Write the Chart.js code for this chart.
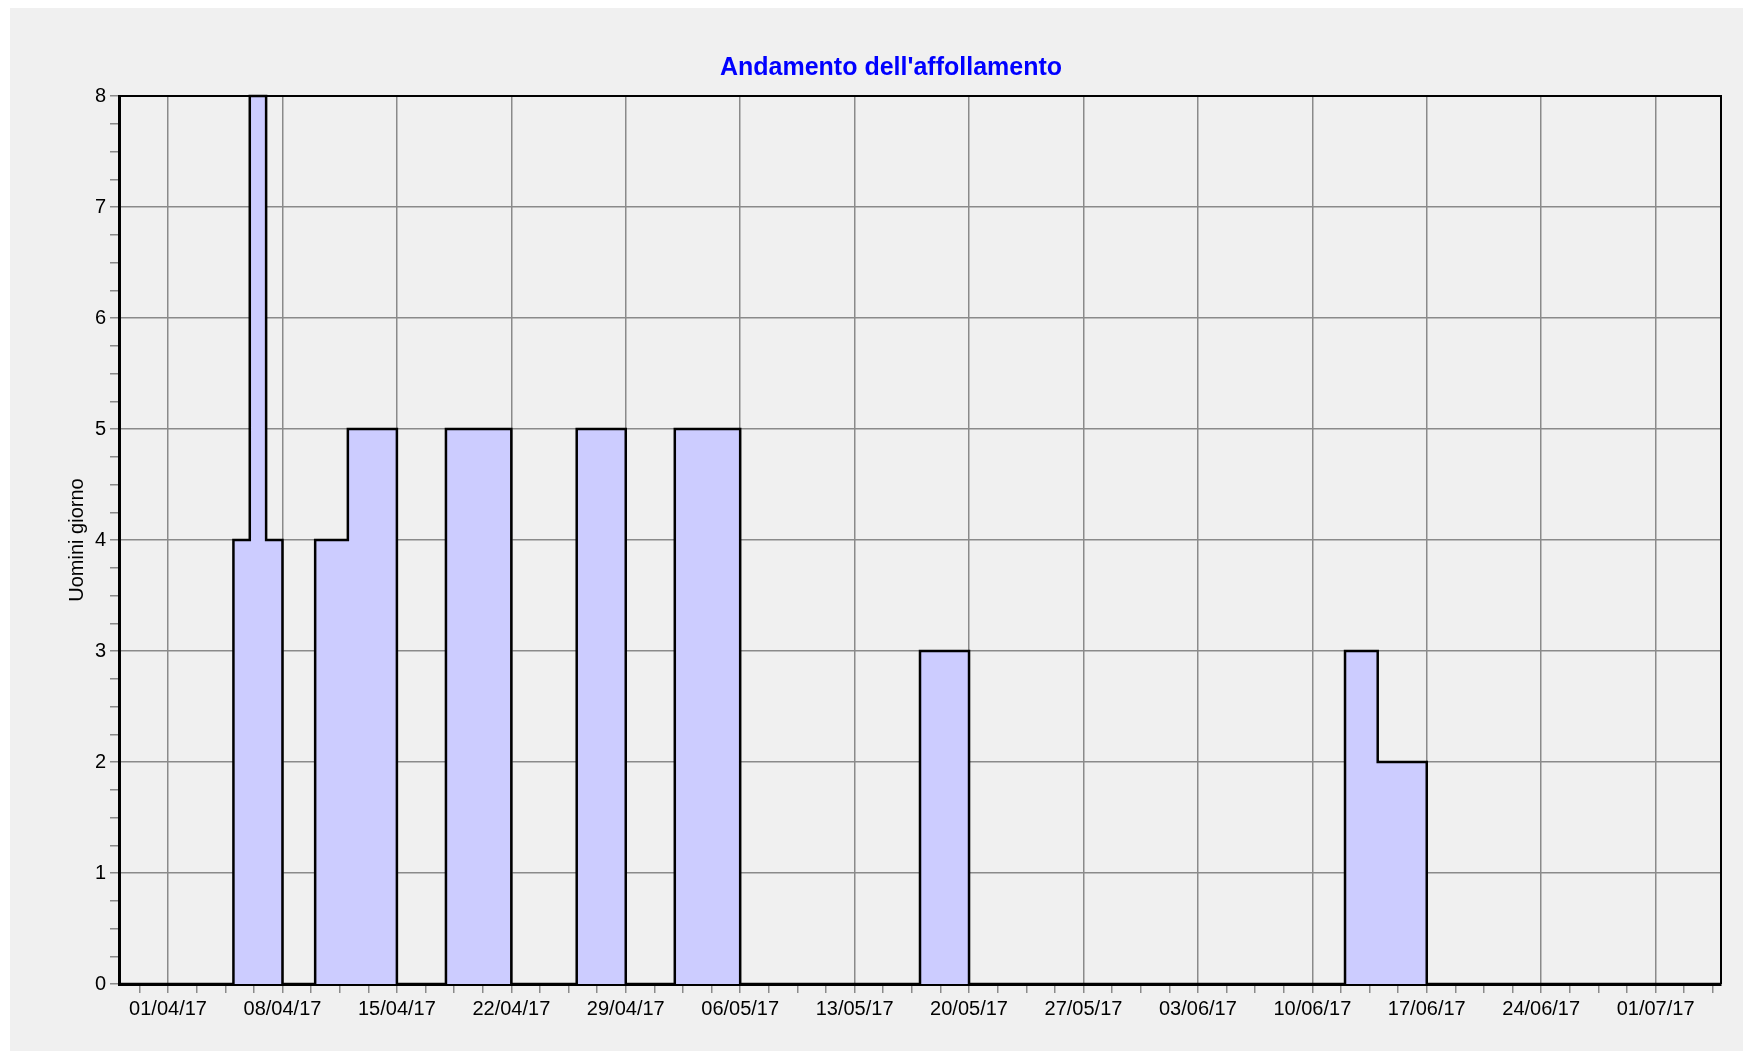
<!DOCTYPE html>
<html>
<head>
<meta charset="utf-8">
<title>Andamento dell'affollamento</title>
<script src="https://cdn.jsdelivr.net/npm/chart.js@4.4.1/dist/chart.umd.min.js"></script>
<style>
  html, body { margin: 0; padding: 0; background: #ffffff; }
  #wrap {
    position: absolute;
    left: 10px;
    top: 8px;
    width: 1733px;
    height: 1043px;
    background: #f0f0f0;
  }
</style>
</head>
<body>
<div id="wrap"><canvas id="crowdChart" width="1733" height="1043"></canvas></div>
<script>
const chartTitle = "Andamento dell'affollamento";
const yAxisTitle = "Uomini giorno";
const xStart = "29/03/17";
const xEnd = "05/07/17";

// weekly labels on the x axis
const xTickLabels = [
  "01/04/17", "08/04/17", "15/04/17", "22/04/17", "29/04/17", "06/05/17", "13/05/17",
  "20/05/17", "27/05/17", "03/06/17", "10/06/17", "17/06/17", "24/06/17", "01/07/17",
];

// days where the crowd count changes, and the value from that day on
const changeDates = [
  "29/03/17", "05/04/17", "06/04/17", "07/04/17", "08/04/17", "10/04/17", "12/04/17",
  "15/04/17", "18/04/17", "22/04/17", "26/04/17", "29/04/17", "02/05/17", "06/05/17",
  "17/05/17", "20/05/17", "12/06/17", "14/06/17", "17/06/17", "05/07/17",
];
const crowdValues = [0, 4, 8, 4, 0, 4, 5, 0, 5, 0, 5, 0, 5, 0, 3, 0, 3, 2, 0, 0];

const yMin = 0;
const yMax = 8;

const gridGray = "#8a8a8a";
const fontFamily = "'Liberation Sans', Arial, sans-serif";

const day0 = Date.UTC(2017, 3, 1);

function toDay(s) {
  const [d, m, y] = s.split("/").map(Number);
  return Math.round((Date.UTC(2000 + y, m - 1, d) - day0) / 86400000);
}

const majorDays = xTickLabels.map(toDay);

// 3 minor ticks between weekly labels, over the whole range
function buildXTicks() {
  const step = 7 / 4;
  const lo = toDay(xStart);
  const hi = toDay(xEnd);
  const ticks = [];
  let v = majorDays[0];
  while (v - step >= lo) v -= step;
  for (; v <= hi + 1e-9; v += step) ticks.push(Math.round(v * 100) / 100);
  return ticks;
}
const xTicks = buildXTicks();

function isMajor(v) {
  return majorDays.some((d) => Math.abs(d - v) < 1e-6);
}

function labelFor(v) {
  const i = majorDays.findIndex((d) => Math.abs(d - v) < 1e-6);
  return i >= 0 ? xTickLabels[i] : "";
}

// frame on top and right of plot area
const framePlugin = {
  id: "frame",
  afterDatasetsDraw(chart) {
    const { ctx, chartArea: a } = chart;
    ctx.save();
    ctx.strokeStyle = "#000000";
    ctx.lineWidth = 2;
    ctx.beginPath();
    ctx.moveTo(a.left, a.top);
    ctx.lineTo(a.right, a.top);
    ctx.lineTo(a.right, a.bottom);
    ctx.stroke();
    ctx.restore();
  },
};

const ctx = document.getElementById("crowdChart").getContext("2d");
new Chart(ctx, {
  type: "line",
  data: {
    datasets: [
      {
        label: yAxisTitle,
        data: changeDates.map((d, i) => ({ x: toDay(d), y: crowdValues[i] })),
        stepped: "before",
        borderColor: "#000000",
        borderWidth: 2.5,
        backgroundColor: "#ccccff",
        fill: "origin",
        pointRadius: 0,
        clip: false,
      },
    ],
  },
  options: {
    responsive: false,
    animation: false,
    devicePixelRatio: 1,
    layout: { padding: { left: 51, right: 22, top: 36, bottom: 0 } },
    plugins: {
      legend: { display: false },
      tooltip: { enabled: false },
      title: {
        display: true,
        text: chartTitle,
        color: "#0000ff",
        font: { family: fontFamily, size: 25, weight: "bold" },
        padding: { top: 9, bottom: 13 },
      },
    },
    scales: {
      x: {
        type: "linear",
        min: toDay(xStart),
        max: toDay(xEnd),
        afterBuildTicks: (scale) => {
          scale.ticks = xTicks.map((v) => ({ value: v }));
        },
        afterFit: (scale) => {
          scale.height = 67;
        },
        ticks: {
          autoSkip: false,
          maxRotation: 0,
          padding: 4,
          color: "#000000",
          font: { family: fontFamily, size: 20 },
          callback: (v) => labelFor(v),
        },
        grid: {
          color: (c) => (c.tick && isMajor(c.tick.value) ? gridGray : "rgba(0,0,0,0)"),
          tickColor: gridGray,
          tickLength: 9,
          lineWidth: 1.5,
        },
        border: { color: "#000000", width: 3 },
      },
      y: {
        min: yMin,
        max: yMax,
        afterFit: (scale) => {
          scale.width = 58;
        },
        ticks: {
          stepSize: 0.25,
          autoSkip: false,
          padding: 4,
          color: "#000000",
          font: { family: fontFamily, size: 20 },
          callback: (v) => (Number.isInteger(v) ? v : ""),
        },
        grid: {
          color: (c) => (c.tick && Number.isInteger(c.tick.value) ? gridGray : "rgba(0,0,0,0)"),
          tickColor: gridGray,
          tickLength: 9,
          lineWidth: 1.5,
        },
        border: { color: "#000000", width: 3 },
        title: {
          display: true,
          text: yAxisTitle,
          color: "#000000",
          font: { family: fontFamily, size: 20 },
          padding: { top: 4, bottom: 0 },
        },
      },
    },
  },
  plugins: [framePlugin],
});
</script>
</body>
</html>
